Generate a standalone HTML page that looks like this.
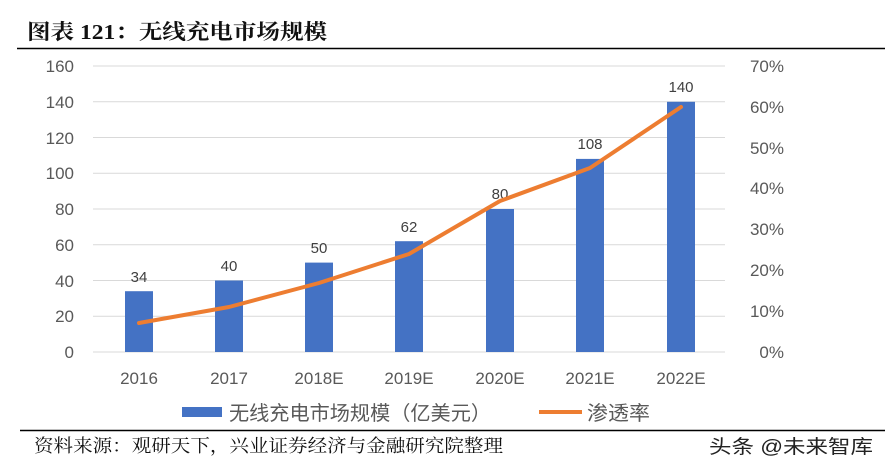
<!DOCTYPE html><html><head><meta charset="utf-8"><style>body{margin:0;background:#fff;width:885px;height:469px;overflow:hidden}svg{display:block}</style></head><body>
<svg width="885" height="469" xmlns="http://www.w3.org/2000/svg" font-family="Liberation Sans, Noto Sans CJK SC, sans-serif">
<text x="27" y="39" font-size="21" font-weight="bold" font-family="Liberation Serif, Noto Serif CJK SC, serif" fill="#111" textLength="300" lengthAdjust="spacingAndGlyphs">图表 121：无线充电市场规模</text>
<line x1="17" y1="48.5" x2="885" y2="48.5" stroke="#000" stroke-width="1.5"/>
<g stroke="#d9d9d9" stroke-width="1">
<line x1="93" y1="66" x2="725" y2="66"/><line x1="93" y1="101.75" x2="725" y2="101.75"/><line x1="93" y1="137.5" x2="725" y2="137.5"/><line x1="93" y1="173.25" x2="725" y2="173.25"/><line x1="93" y1="209" x2="725" y2="209"/><line x1="93" y1="244.75" x2="725" y2="244.75"/><line x1="93" y1="280.5" x2="725" y2="280.5"/><line x1="93" y1="316.25" x2="725" y2="316.25"/><line x1="93" y1="352" x2="725" y2="352"/></g>
<g font-size="17" fill="#595959" text-anchor="end">
<text x="74" y="72">160</text><text x="74" y="108">140</text><text x="74" y="144">120</text><text x="74" y="179">100</text><text x="74" y="215">80</text><text x="74" y="251">60</text><text x="74" y="287">40</text><text x="74" y="322">20</text><text x="74" y="358">0</text></g>
<g font-size="17" fill="#595959" text-anchor="end">
<text x="784" y="72">70%</text><text x="784" y="113">60%</text><text x="784" y="154">50%</text><text x="784" y="194">40%</text><text x="784" y="235">30%</text><text x="784" y="276">20%</text><text x="784" y="317">10%</text><text x="784" y="358">0%</text></g>
<g fill="#4472c4">
<rect x="125" y="291.2" width="28" height="60.8"/><rect x="215" y="280.5" width="28" height="71.5"/><rect x="305" y="262.6" width="28" height="89.4"/><rect x="395" y="241.2" width="28" height="110.8"/><rect x="486" y="209" width="28" height="143"/><rect x="576" y="158.9" width="28" height="193.1"/><rect x="667" y="101.8" width="28" height="250.2"/></g>
<g font-size="15" fill="#404040" text-anchor="middle">
<text x="139" y="282">34</text><text x="229" y="271">40</text><text x="319" y="253">50</text><text x="409" y="232">62</text><text x="500" y="199">80</text><text x="590" y="149">108</text><text x="681" y="92">140</text></g>
<polyline points="139,323 229,307 319,283 409,254 500,201 590,168 681,107" fill="none" stroke="#ed7d31" stroke-width="4" stroke-linejoin="round" stroke-linecap="round"/>
<g font-size="17" fill="#595959" text-anchor="middle">
<text x="139" y="384">2016</text><text x="229" y="384">2017</text><text x="319" y="384">2018E</text><text x="409" y="384">2019E</text><text x="500" y="384">2020E</text><text x="590" y="384">2021E</text><text x="681" y="384">2022E</text></g>
<rect x="182" y="407" width="40" height="10" fill="#4472c4"/>
<text x="229" y="420" font-size="20" fill="#595959" textLength="262" lengthAdjust="spacingAndGlyphs">无线充电市场规模（亿美元）</text>
<line x1="539" y1="412" x2="582" y2="412" stroke="#ed7d31" stroke-width="4"/>
<text x="587" y="420" font-size="20" fill="#595959" textLength="63" lengthAdjust="spacingAndGlyphs">渗透率</text>
<line x1="20" y1="430.5" x2="885" y2="430.5" stroke="#000" stroke-width="1.5"/>
<text x="34" y="452" font-size="18" font-family="Liberation Serif, Noto Serif CJK SC, serif" fill="#111" textLength="469" lengthAdjust="spacingAndGlyphs">资料来源：观研天下，兴业证券经济与金融研究院整理</text>
<text x="709" y="453" font-size="19" fill="#222" textLength="164" lengthAdjust="spacingAndGlyphs">头条 @未来智库</text>
</svg></body></html>
